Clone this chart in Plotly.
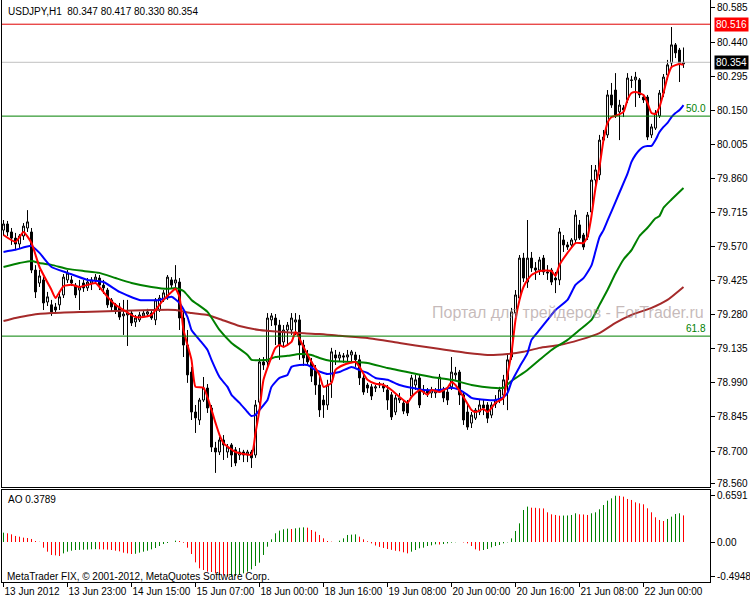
import plotly.graph_objects as go

# ---------------- data ----------------
bars = list(range(171))

opens = [79.640,79.666,79.632,79.606,79.581,79.615,79.649,79.632,79.470,79.415,
         79.428,79.334,79.322,79.313,79.322,79.364,79.428,79.428,79.406,79.385,
         79.415,79.394,79.415,79.428,79.436,79.406,79.385,79.343,79.322,79.313,
         79.275,79.279,79.287,79.249,79.258,79.275,79.283,79.287,79.258,79.300,
         79.343,79.356,79.428,79.415,79.419,79.266,79.151,79.036,78.866,78.832,
         78.917,78.968,78.883,78.713,78.696,78.747,78.696,78.726,78.705,78.683,
         78.696,78.683,78.696,78.683,78.908,79.079,79.079,79.258,79.266,79.236,
         79.164,79.215,79.215,79.249,79.258,79.151,79.109,79.079,79.045,78.981,
         78.917,78.896,78.994,79.109,79.096,79.105,79.100,79.109,79.109,79.088,
         79.011,78.981,78.973,78.968,78.981,78.977,78.960,78.939,78.866,78.917,
         78.904,78.904,78.934,78.981,79.011,78.951,78.960,78.947,78.947,78.960,
         78.960,78.951,78.973,79.024,79.036,78.939,78.866,78.819,78.840,78.866,
         78.896,78.896,78.853,78.900,78.917,78.938,79.003,79.100,79.288,79.351,
         79.521,79.419,79.521,79.479,79.470,79.521,79.462,79.470,79.436,79.428,
         79.598,79.577,79.577,79.598,79.662,79.619,79.611,79.717,79.853,79.875,
         80.023,80.045,80.215,80.236,80.143,80.160,80.194,80.279,80.279,80.279,
         80.206,80.206,80.045,80.074,80.126,80.223,80.300,80.351,80.428,80.406,
         80.347]
highs = [79.683,79.679,79.649,79.628,79.623,79.670,79.725,79.649,79.491,79.470,
         79.440,79.377,79.343,79.330,79.377,79.453,79.470,79.445,79.415,79.428,
         79.428,79.436,79.440,79.453,79.449,79.428,79.394,79.351,79.330,79.330,
         79.343,79.343,79.300,79.279,79.292,79.300,79.305,79.300,79.351,79.364,
         79.385,79.449,79.440,79.491,79.436,79.292,79.215,79.058,78.896,78.926,
         79.015,78.985,78.896,78.739,78.760,78.768,78.730,78.734,78.717,78.713,
         78.705,78.705,78.705,78.917,79.096,79.100,79.287,79.287,79.283,79.258,
         79.236,79.249,79.287,79.287,79.279,79.173,79.130,79.096,79.066,79.015,
         78.938,79.003,79.139,79.130,79.122,79.117,79.130,79.130,79.122,79.109,
         79.024,78.990,78.985,78.981,78.994,78.990,78.981,78.951,78.939,78.947,
         78.917,78.917,79.024,79.024,79.024,78.981,78.968,78.973,78.968,79.028,
         78.973,78.968,79.100,79.058,79.045,78.951,78.896,78.866,78.883,78.917,
         78.917,78.908,78.908,78.938,78.973,79.024,79.117,79.309,79.385,79.534,
         79.543,79.683,79.547,79.504,79.526,79.534,79.491,79.479,79.462,79.649,
         79.619,79.590,79.606,79.725,79.683,79.628,79.717,79.917,79.917,80.045,
         80.066,80.236,80.266,80.308,80.194,80.172,80.308,80.296,80.313,80.287,
         80.219,80.215,80.092,80.151,80.236,80.304,80.364,80.504,80.436,80.415,
         80.417]
lows = [79.615,79.615,79.577,79.555,79.564,79.598,79.632,79.457,79.351,79.398,
        79.300,79.317,79.275,79.287,79.300,79.351,79.415,79.402,79.351,79.300,
        79.377,79.381,79.385,79.411,79.385,79.368,79.309,79.292,79.283,79.258,
        79.194,79.147,79.232,79.228,79.249,79.266,79.270,79.258,79.236,79.292,
        79.334,79.343,79.394,79.394,79.215,79.100,78.990,78.832,78.777,78.811,
        78.909,78.862,78.696,78.607,78.683,78.662,78.671,78.632,78.636,78.662,
        78.653,78.653,78.628,78.671,78.896,79.045,79.062,79.232,79.151,79.088,
        79.143,79.147,79.194,79.194,79.088,79.062,79.066,78.994,78.939,78.845,
        78.841,78.875,78.926,79.066,79.079,79.075,79.079,79.075,79.058,78.981,
        78.939,78.947,78.917,78.951,78.968,78.951,78.875,78.832,78.853,78.904,
        78.857,78.849,78.926,78.960,78.883,78.939,78.930,78.926,78.926,78.951,
        78.908,78.896,78.960,79.003,78.896,78.811,78.790,78.798,78.832,78.853,
        78.853,78.819,78.840,78.883,78.904,78.896,78.874,79.088,79.266,79.334,
        79.419,79.394,79.462,79.428,79.449,79.449,79.428,79.406,79.372,79.406,
        79.547,79.556,79.564,79.581,79.598,79.556,79.598,79.704,79.832,79.853,
        80.011,80.032,80.160,80.117,80.023,80.121,80.181,80.245,80.164,80.202,
        80.181,80.023,80.032,80.066,80.117,80.206,80.279,80.338,80.372,80.270,
        80.330]
closes = [79.666,79.632,79.606,79.581,79.615,79.657,79.675,79.470,79.377,79.445,
          79.330,79.356,79.292,79.300,79.356,79.440,79.457,79.415,79.364,79.398,
          79.394,79.419,79.428,79.440,79.406,79.394,79.322,79.313,79.300,79.270,
          79.283,79.287,79.245,79.266,79.279,79.287,79.292,79.266,79.343,79.351,
          79.373,79.440,79.406,79.428,79.266,79.151,79.024,78.866,78.841,78.917,
          78.968,78.883,78.717,78.696,78.747,78.726,78.717,78.683,78.649,78.696,
          78.683,78.696,78.671,78.896,79.079,79.066,79.266,79.275,79.236,79.151,
          79.215,79.236,79.266,79.258,79.151,79.096,79.079,79.019,78.981,78.875,
          78.896,78.981,79.122,79.096,79.109,79.100,79.109,79.122,79.088,79.011,
          78.951,78.968,78.934,78.973,78.985,78.968,78.917,78.845,78.926,78.926,
          78.870,78.862,79.011,79.003,78.896,78.960,78.947,78.960,78.955,79.015,
          78.926,78.917,79.036,79.032,78.939,78.832,78.802,78.853,78.874,78.896,
          78.883,78.840,78.896,78.917,78.960,79.003,79.088,79.292,79.364,79.521,
          79.436,79.521,79.479,79.470,79.513,79.462,79.458,79.419,79.428,79.632,
          79.577,79.568,79.598,79.704,79.606,79.568,79.704,79.853,79.896,80.023,
          80.036,80.215,80.172,80.130,80.172,80.151,80.287,80.277,80.291,80.215,
          80.194,80.036,80.079,80.138,80.223,80.291,80.343,80.428,80.394,80.351,
          80.354]

# moving averages (bar index, price)
ma_red_bars = [0,3,5,7,9,12,13,15,17,19,23,24,26,28,30,33,35,37,38,40,42,43,44,45,47,48,50,
               52,53,54,55,58,62,63,64,65,67,68,69,70,72,73,75,77,79,80,82,83,85,88,89,91,93,
               95,97,99,101,102,104,105,106,107,109,111,112,113,115,117,118,120,121,122,123,
               125,126,127,128,129,130,131,132,134,137,138,139,141,143,145,146,147,148,149,
               150,151,152,153,155,156,157,158,160,161,162,163,164,165,166,167,169,170]
ma_red = [79.619,79.590,79.632,79.585,79.483,79.385,79.351,79.402,79.407,79.398,79.415,79.398,
          79.356,79.322,79.300,79.270,79.270,79.279,79.300,79.343,79.377,79.390,79.356,79.215,
          79.088,78.973,78.969,78.875,78.820,78.769,78.734,78.696,78.685,78.777,78.875,79.003,
          79.100,79.139,79.151,79.143,79.164,79.207,79.143,79.079,79.024,78.973,78.990,79.045,
          79.066,79.079,79.058,79.003,78.986,78.981,78.960,78.930,78.905,78.930,78.960,78.951,
          78.939,78.960,78.951,78.969,78.994,78.981,78.930,78.875,78.866,78.879,78.866,78.883,
          78.905,78.926,79.024,79.117,79.258,79.343,79.398,79.428,79.449,79.466,79.466,79.445,
          79.492,79.543,79.585,79.585,79.611,79.700,79.819,79.909,80.023,80.096,80.121,80.126,
          80.143,80.194,80.223,80.228,80.215,80.181,80.138,80.134,80.164,80.223,80.291,80.334,
          80.347,80.343]

ma_blue_bars = [0,3,7,9,12,16,21,25,29,34,39,42,44,46,47,49,51,52,54,56,57,59,61,62,63,64,66,
                67,69,71,72,74,76,78,81,84,87,89,91,93,96,99,102,105,109,112,114,116,117,121,
                123,125,126,127,129,131,132,134,136,138,141,143,145,147,148,149,150,151,152,
                154,156,157,158,159,160,161,162,163,164,165,166,167,168,169,170]
ma_blue = [79.547,79.556,79.573,79.543,79.483,79.458,79.428,79.419,79.377,79.343,79.343,79.356,
           79.330,79.270,79.215,79.173,79.130,79.088,79.015,78.973,78.939,78.905,78.866,78.849,
           78.854,78.875,78.917,78.973,79.011,79.024,79.058,79.066,79.066,79.045,79.028,79.036,
           79.058,79.045,79.032,79.011,79.003,78.981,78.969,78.960,78.960,78.969,78.960,78.939,
           78.926,78.917,78.917,78.930,78.947,78.994,79.058,79.117,79.173,79.215,79.258,79.300,
           79.343,79.407,79.436,79.490,79.550,79.610,79.640,79.680,79.720,79.800,79.880,79.930,
           79.960,79.981,79.994,79.998,79.998,80.023,80.057,80.079,80.096,80.121,80.138,80.151,
           80.172]

ma_green_bars = [0,4,7,9,12,16,20,24,28,32,37,41,43,45,47,51,54,57,61,62,66,68,71,74,77,79,82,
                 87,91,96,102,107,112,117,122,125,127,131,134,137,141,144,147,149,151,153,155,
                 157,159,161,163,164,165,167,170]
ma_green = [79.483,79.500,79.509,79.500,79.492,79.475,79.466,79.458,79.436,79.415,79.398,79.390,
            79.394,79.381,79.343,79.292,79.215,79.160,79.109,79.088,79.088,79.100,79.105,79.113,
            79.109,79.096,79.083,79.079,79.075,79.053,79.032,79.015,79.003,78.981,78.969,78.969,
            78.998,79.045,79.088,79.130,79.173,79.215,79.258,79.322,79.385,79.455,79.515,79.555,
            79.615,79.650,79.690,79.700,79.735,79.770,79.819]

ma_brown_bars = [0,3,7,12,20,28,37,43,47,51,54,59,64,69,74,79,84,91,99,107,116,121,126,130,134,
                 139,144,149,153,157,162,166,170]
ma_brown = [79.253,79.266,79.279,79.287,79.292,79.296,79.300,79.300,79.287,79.279,79.262,79.232,
            79.215,79.207,79.202,79.198,79.190,79.181,79.160,79.139,79.117,79.109,79.113,79.122,
            79.139,79.151,79.173,79.202,79.245,79.279,79.309,79.343,79.398]

ao = [0.133,0.124,0.109,0.086,0.076,0.062,0.057,0.043,0.014,0.003,
      -0.081,-0.138,-0.185,-0.190,-0.200,-0.162,-0.138,-0.124,-0.114,-0.112,
      -0.110,-0.108,-0.104,-0.102,-0.104,-0.106,-0.109,-0.114,-0.124,-0.133,
      -0.152,-0.162,-0.171,-0.168,-0.152,-0.138,-0.124,-0.105,-0.086,-0.057,
      -0.029,-0.014,0.002,0.019,0.014,-0.010,-0.081,-0.171,-0.290,-0.375,
      -0.399,-0.423,-0.428,-0.447,-0.461,-0.475,-0.4948,-0.490,-0.485,-0.470,
      -0.447,-0.423,-0.390,-0.342,-0.295,-0.185,-0.067,0.038,0.124,0.162,
      0.181,0.190,0.185,0.195,0.204,0.209,0.204,0.171,0.147,0.100,
      0.052,0.014,0.005,0.002,0.019,0.052,0.100,0.105,0.109,0.076,
      0.038,0.010,-0.020,-0.050,-0.070,-0.085,-0.100,-0.112,-0.125,-0.132,
      -0.147,-0.162,-0.138,-0.114,-0.090,-0.081,-0.057,-0.048,-0.033,-0.036,
      -0.029,-0.019,-0.009,-0.004,-0.002,-0.006,-0.019,-0.057,-0.105,-0.124,
      -0.114,-0.100,-0.076,-0.057,-0.043,-0.019,-0.005,0.052,0.157,0.266,
      0.456,0.504,0.489,0.487,0.480,0.478,0.423,0.394,0.385,0.375,
      0.377,0.378,0.385,0.409,0.394,0.392,0.385,0.409,0.423,0.466,
      0.527,0.589,0.622,0.6591,0.657,0.646,0.613,0.599,0.565,0.551,
      0.537,0.480,0.423,0.352,0.314,0.299,0.328,0.361,0.399,0.409,
      0.3789]

x_tick_bars = [0, 16, 32, 48, 64, 80, 96, 112, 128, 144, 160]
x_tick_labels = ["13 Jun 2012", "13 Jun 23:00", "14 Jun 15:00", "15 Jun 07:00",
                 "18 Jun 00:00", "18 Jun 16:00", "19 Jun 08:00", "20 Jun 00:00",
                 "20 Jun 16:00", "21 Jun 08:00", "22 Jun 00:00"]
price_ticks = [80.585, 80.440, 80.295, 80.150, 80.005, 79.860, 79.715, 79.570,
               79.425, 79.280, 79.135, 78.990, 78.845, 78.700, 78.560]
ao_ticks = [0.6591, 0.0, -0.4948]
ao_tick_labels = ["0.6591", "0.00", "-0.4948"]
level_red = 80.516
level_bid = 80.354
fib_levels = [80.125, 79.189]
fib_labels = ["50.0", "61.8"]
title_text = "USDJPY,H1  80.347 80.417 80.330 80.354"
ao_text = "AO 0.3789"
copyright_text = "MetaTrader FIX, \u00a9 2001-2012, MetaQuotes Software Corp."
watermark_text = "Портал для трейдеров - ForTrader.ru"

# ---------------- figure ----------------
FONT = "Liberation Sans, Arial, sans-serif"
FS = 10
W, H = 750, 600
ML, MR, MT, MB = 2, 40, 0, 18
PW, PH = W - ML - MR, H - MT - MB


def px_x(px):
    return (px - ML) / PW


def px_y(py):
    return (PH - (py - MT)) / PH


fig = go.Figure()

fig.add_trace(go.Candlestick(
    x=bars, open=opens, high=highs, low=lows, close=closes,
    increasing=dict(line=dict(color="black", width=1), fillcolor="white"),
    decreasing=dict(line=dict(color="black", width=1), fillcolor="black"),
    whiskerwidth=0, xaxis="x", yaxis="y", showlegend=False, hoverinfo="skip"))

for xs, ys, col in [(ma_brown_bars, ma_brown, "#a52a2a"),
                    (ma_green_bars, ma_green, "#008000"),
                    (ma_blue_bars, ma_blue, "#0000ff"),
                    (ma_red_bars, ma_red, "#ff0000")]:
    fig.add_trace(go.Scatter(x=xs, y=ys, mode="lines",
                             line=dict(color=col, width=2, shape="spline", smoothing=0.5),
                             xaxis="x", yaxis="y", showlegend=False, hoverinfo="skip"))

# AO histogram
gx, gy, rx, ry = [], [], [], []
for i, v in enumerate(ao):
    up = i == 0 or v > ao[i - 1]
    tx, ty = (gx, gy) if up else (rx, ry)
    tx += [bars[i], bars[i], None]
    ty += [0, v, None]
fig.add_trace(go.Scatter(x=gx, y=gy, mode="lines", line=dict(color="#008000", width=1),
                         xaxis="x2", yaxis="y2", showlegend=False, hoverinfo="skip"))
fig.add_trace(go.Scatter(x=rx, y=ry, mode="lines", line=dict(color="#ff0000", width=1),
                         xaxis="x2", yaxis="y2", showlegend=False, hoverinfo="skip"))

# y ranges: main panel 0..487 px, AO panel 489.5..582 px
main_top = 80.619
main_bot = 78.547
ao_top = 0.748
ao_bot = -0.570
x_range = [-0.375, 176.625]

main_dom = [px_y(487), 1]
ao_dom = [0, px_y(489.5)]

axis_common = dict(showgrid=False, zeroline=False, showline=True, linecolor="black",
                   linewidth=1, mirror=True, automargin=False)
tickfont = dict(family=FONT, size=FS, color="black")

fig.update_layout(
    width=W, height=H,
    margin=dict(l=ML, r=MR, t=MT, b=MB, pad=0),
    paper_bgcolor="white", plot_bgcolor="white",
    font=dict(family=FONT, size=FS, color="black"),
    xaxis=dict(domain=[0, 1], range=x_range, anchor="y", showticklabels=False, ticks="",
               rangeslider=dict(visible=False), **axis_common),
    yaxis=dict(domain=main_dom, range=[main_bot, main_top], side="right", anchor="x",
               tickvals=price_ticks, ticktext=[f"{t:.3f}" for t in price_ticks],
               ticks="outside", ticklen=4, tickcolor="black", tickfont=tickfont,
               **axis_common),
    xaxis2=dict(domain=[0, 1], range=x_range, anchor="y2", matches="x",
                tickvals=x_tick_bars, ticktext=x_tick_labels, ticks="outside", ticklen=4,
                tickcolor="black", ticklabelposition="outside right", tickangle=0,
                tickfont=tickfont, **axis_common),
    yaxis2=dict(domain=ao_dom, range=[ao_bot, ao_top], side="right", anchor="x2",
                tickvals=ao_ticks, ticktext=ao_tick_labels, ticks="outside", ticklen=4,
                tickcolor="black", tickfont=tickfont, **axis_common),
)

shapes = [
    dict(type="line", xref="paper", x0=0, x1=1, yref="y", y0=level_red, y1=level_red,
         line=dict(color="#e00000", width=1)),
    dict(type="line", xref="paper", x0=0, x1=1, yref="y", y0=level_bid, y1=level_bid,
         line=dict(color="#c0c0c0", width=1)),
]
for lv in fib_levels:
    shapes.append(dict(type="line", xref="paper", x0=0, x1=1, yref="y", y0=lv, y1=lv,
                       line=dict(color="#008000", width=1)))
fig.update_layout(shapes=shapes)

ann = [
    dict(text=title_text, xref="paper", yref="paper", x=px_x(6), y=px_y(11),
         xanchor="left", yanchor="middle", showarrow=False),
    dict(text=ao_text, xref="paper", yref="paper", x=px_x(6), y=px_y(499),
         xanchor="left", yanchor="middle", showarrow=False),
    dict(text=copyright_text, xref="paper", yref="paper", x=px_x(5), y=px_y(576),
         xanchor="left", yanchor="middle", showarrow=False),
    dict(text=watermark_text, xref="paper", yref="paper", x=px_x(568), y=px_y(312),
         xanchor="center", yanchor="middle", showarrow=False,
         font=dict(family=FONT, size=16, color="rgba(160,140,140,0.6)")),
    dict(text=f"{level_red:.3f}", xref="paper", yref="y", x=1, y=level_red, xshift=4,
         xanchor="left", yanchor="middle", showarrow=False, bgcolor="#ff0000",
         borderpad=1, font=dict(size=FS, color="white")),
    dict(text=f"{level_bid:.3f}", xref="paper", yref="y", x=1, y=level_bid, xshift=4,
         xanchor="left", yanchor="middle", showarrow=False, bgcolor="black",
         borderpad=1, font=dict(size=FS, color="white")),
]
for lv, lb in zip(fib_levels, fib_labels):
    ann.append(dict(text=lb, xref="paper", yref="y", x=1, y=lv, xshift=-2, yshift=0,
                    xanchor="right", yanchor="bottom", showarrow=False,
                    font=dict(size=FS, color="#008000")))
fig.update_layout(annotations=ann)

fig.write_html("out.html", config={"displayModeBar": False},
               post_script="document.body.style.margin='0px';")
